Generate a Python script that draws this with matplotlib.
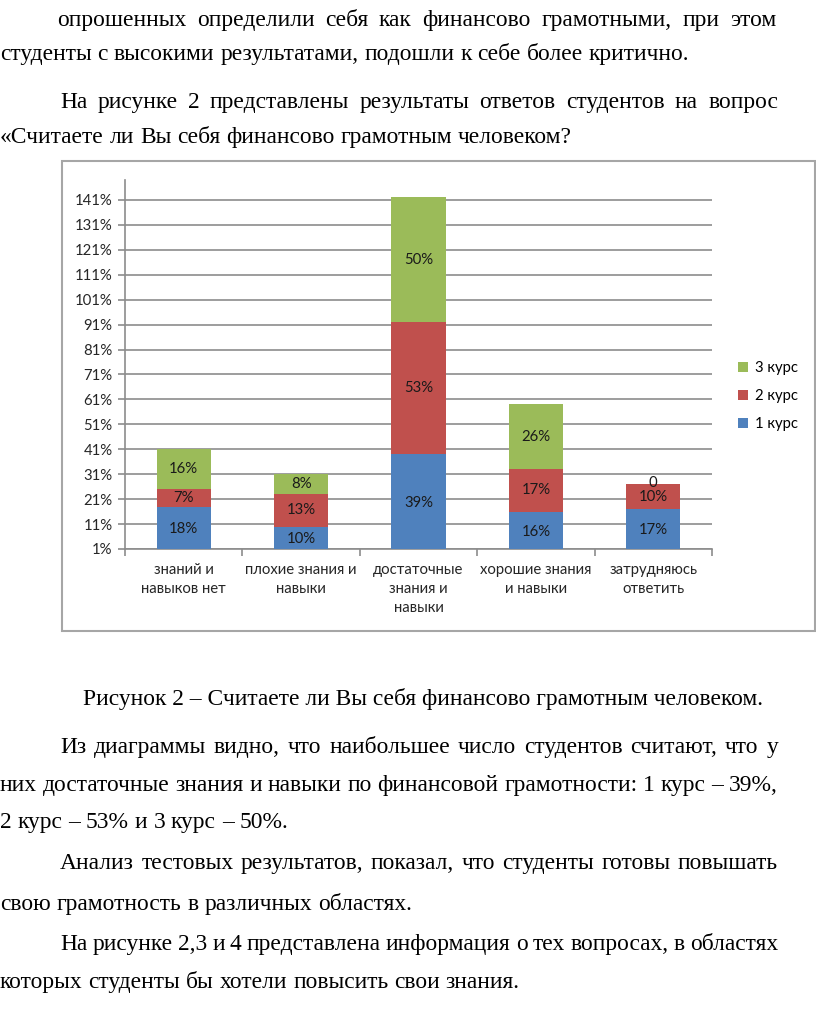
import matplotlib
matplotlib.use("Agg")
import matplotlib.pyplot as plt
from matplotlib.patches import Rectangle

W, H = 816, 1009

categories = ["знаний и\nнавыков нет", "плохие знания и\nнавыки",
              "достаточные\nзнания и\nнавыки", "хорошие знания\nи навыки",
              "затрудняюсь\nответить"]
kurs1 = [18, 10, 39, 16, 17]
kurs2 = [7, 13, 53, 17, 10]
kurs3 = [16, 8, 50, 26, 0]
series_names = ["1 курс", "2 курс", "3 курс"]
colors = ["#4F81BD", "#C0504D", "#9BBB59"]
yticks = [1, 11, 21, 31, 41, 51, 61, 71, 81, 91, 101, 111, 121, 131, 141]

top_par = [
    ("опрошенных определили себя как финансово грамотными, при этом", 18, 57, 776, True),
    ("студенты с высокими результатами, подошли к себе более критично.", 52, 0, 776, False),
    ("На рисунке 2 представлены результаты ответов студентов на вопрос", 100, 60, 778, True),
    ("«Считаете ли Вы себя финансово грамотным человеком?", 135, 0, 778, False),
]
bottom_par = [
    ("Из диаграммы видно, что наибольшее число студентов считают, что у", 745, 60, 778, True),
    ("них достаточные знания и навыки по финансовой грамотности: 1 курс – 39%,", 783, 0, 778, True),
    ("2 курс – 53% и 3 курс – 50%.", 820, 0, 778, False),
    ("Анализ тестовых результатов, показал, что студенты готовы повышать", 861, 60, 778, True),
    ("свою грамотность в различных областях.", 902, 0, 778, False),
    ("На рисунке 2,3 и 4 представлена информация о тех вопросах, в областях", 942, 60, 778, True),
    ("которых студенты бы хотели повысить свои знания.", 980, 0, 778, False),
]
caption = "Рисунок 2 – Считаете ли Вы себя финансово грамотным человеком."

fig = plt.figure(figsize=(W / 100, H / 100), dpi=100)
renderer = fig.canvas.get_renderer()
serif = dict(family="Liberation Serif", fontsize=16.9, color="black")
chart_font = dict(family="Lato", fontsize=10.7)


def width_of(s):
    t = fig.text(0, 0, s, **serif)
    w = t.get_window_extent(renderer).width
    t.remove()
    return w


def put_line(text, y, x0, x1, justify):
    words = text.split(" ")
    objs = [fig.text(0, 1 - y / H, w, va="center_baseline", ha="left", **serif) for w in words]
    widths = [o.get_window_extent(renderer).width for o in objs]
    if justify and len(words) > 1:
        gap = (x1 - x0 - sum(widths)) / (len(words) - 1)
    else:
        gap = width_of("a a") - width_of("aa")
    x = x0
    for o, w in zip(objs, widths):
        o.set_x(x / W)
        x += w + gap


for line in top_par + bottom_par:
    put_line(*line)
fig.text(423 / W, 1 - 697 / H, caption, ha="center", va="center_baseline", **serif)

# рамка диаграммы
fig.patches.append(Rectangle((62 / W, 1 - 631 / H), (815 - 62) / W, (631 - 161) / H,
                             transform=fig.transFigure, fill=False,
                             edgecolor="#A6A6A6", linewidth=1.5))

ax = fig.add_axes([125 / W, 1 - 549 / H, (712 - 125) / W, (549 - 180) / H])
x = range(len(categories))
bottom = [0] * len(categories)
handles = []
for vals, name, c in zip([kurs1, kurs2, kurs3], series_names, colors):
    bars = ax.bar(x, vals, bottom=bottom, width=0.46, color=c, label=name, zorder=3)
    handles.append(bars)
    for xi, v, b in zip(x, vals, bottom):
        lab = "0" if v == 0 else f"{v}%"
        yc = b + v / 2 if v > 0 else b + 0.3
        ax.text(xi, yc, lab, ha="center", va="center", color="#1a1a1a", zorder=4, **chart_font)
    bottom = [b + v for b, v in zip(bottom, vals)]

ax.set_xlim(-0.5, len(categories) - 0.5)
ax.set_ylim(1, 149)
ax.set_yticks(yticks)
ax.set_yticklabels([f"{t}%" for t in yticks], color="#262626", **chart_font)
ax.yaxis.grid(True, color="#8C8C8C", linewidth=1.2, zorder=0)
ax.set_xticks(list(x))
ax.set_xticklabels(categories, color="#262626", linespacing=1.45, va="top", **chart_font)
ax.tick_params(axis="x", length=0, pad=10)
ax.set_xticks([i - 0.5 for i in range(len(categories) + 1)], minor=True)
ax.tick_params(axis="x", which="minor", length=5, color="#8C8C8C", width=1.2)
ax.tick_params(axis="y", length=5, color="#8C8C8C", width=1.2, pad=4)
for s in ["top", "right"]:
    ax.spines[s].set_visible(False)
for s in ["left", "bottom"]:
    ax.spines[s].set_color("#8C8C8C")
    ax.spines[s].set_linewidth(1.2)

leg = fig.legend(handles[::-1], series_names[::-1], loc="center left",
                 bbox_to_anchor=(725 / W, 1 - 396 / H), frameon=False,
                 prop=dict(family="Lato", size=10.7), handlelength=0.65, handleheight=0.65,
                 labelspacing=0.95, handletextpad=0.45)

fig.savefig("out.png", dpi=100, facecolor="white")
